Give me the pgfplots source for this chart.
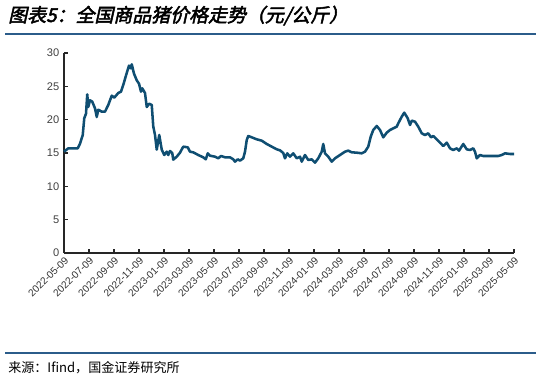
\documentclass[border=0pt]{standalone}
\usepackage{pgfplots}
\pgfplotsset{compat=1.18}
\usepackage{fontspec}
\setmainfont{Liberation Sans}
\newfontfamily\cjk{Noto Sans CJK SC}
\newfontfamily\cjkt[FakeSlant=0.22,FakeBold=2.5]{Noto Sans CJK SC}
\definecolor{pline}{HTML}{0F4E72}
\definecolor{rulec}{HTML}{2B5C8A}
\begin{document}
\begin{tikzpicture}[x=0.75pt,y=0.75pt]
\path (0,0) rectangle (541,384);
\draw[rulec, line width=1.5pt] (5,350) -- (536,350);
\draw[rulec, line width=1.5pt] (5,31) -- (536,31);
\node[anchor=base west, inner sep=0] at (8,362) {\cjkt\fontsize{14.2}{16}\selectfont 图表5：全国商品猪价格走势（元/公斤）};
\node[anchor=base west, inner sep=0] at (8,11) {\cjk\fontsize{9.8}{11}\selectfont 来源：Ifind，国金证券研究所};
\begin{axis}[
  at={(48pt,98.25pt)}, anchor=south west,
  scale only axis, width=337.5pt, height=150pt,
  xmin=0, xmax=36, ymin=0, ymax=30,
  xtick={0,2,...,36},
  xticklabels={2022-05-09,2022-07-09,2022-09-09,2022-11-09,2023-01-09,2023-03-09,2023-05-09,2023-07-09,2023-09-09,2023-11-09,2024-01-09,2024-03-09,2024-05-09,2024-07-09,2024-09-09,2024-11-09,2025-01-09,2025-03-09,2025-05-09},
  ytick={0,5,...,30},
  axis x line*=bottom, axis y line*=left,
  axis line style={black!85, line width=0.9pt},
  tick style={black!85, line width=0.8pt},
  tick align=inside, major tick length=3pt,
  /pgf/number format/assume math mode=true,
  x tick label style={rotate=45, anchor=north east, font=\fontsize{7.6}{8}\selectfont, text=black!80, inner sep=1.5pt},
  y tick label style={font=\fontsize{8.3}{9}\selectfont, text=black!75},
  clip=false,
]
\addplot[pline, line width=1.9pt, line join=round] coordinates {
(0,15.2)(0.34,15.7)(1.10,15.7)(1.28,16.4)(1.50,17.7)(1.62,20.2)(1.76,20.9)(1.86,23.8)(1.94,21.9)(2.08,22.9)(2.26,22.7)(2.48,21.7)(2.62,20.4)(2.74,21.5)(3.02,21.2)(3.28,21.2)(3.54,22.2)(3.82,23.6)(4.02,23.3)(4.34,24.0)(4.56,24.2)(4.74,25.2)(4.94,26.5)(5.10,27.5)(5.20,28.1)(5.34,27.7)(5.42,28.3)(5.60,26.9)(5.82,25.9)(6.00,25.4)(6.16,24.2)(6.26,24.7)(6.48,24.0)(6.62,21.9)(6.82,22.4)(7.02,22.2)(7.14,19.0)(7.28,17.7)(7.42,15.5)(7.62,17.7)(7.82,15.5)(8.02,14.7)(8.22,15.2)(8.34,14.7)(8.48,15.3)(8.66,15.0)(8.74,14.0)(9.02,14.45)(9.28,15.05)(9.54,15.95)(9.90,15.85)(10.08,15.2)(10.34,15.1)(10.74,14.7)(11.14,14.35)(11.34,14.05)(11.50,14.95)(11.68,14.6)(12.08,14.45)(12.34,14.2)(12.56,14.55)(12.88,14.35)(13.28,14.35)(13.54,14.05)(13.68,13.7)(13.90,14.05)(14.08,13.85)(14.34,14.2)(14.48,15.2)(14.62,16.95)(14.74,17.55)(15.02,17.35)(15.42,17.05)(15.82,16.85)(16.22,16.35)(16.62,15.95)(17.02,15.55)(17.28,15.4)(17.54,15.0)(17.68,14.2)(17.86,14.95)(18.08,14.45)(18.34,14.95)(18.62,14.2)(18.88,14.45)(19.02,13.7)(19.28,14.7)(19.54,13.95)(19.82,14.05)(20.08,13.55)(20.34,14.2)(20.62,15.2)(20.74,16.35)(20.88,14.95)(21.14,14.45)(21.42,13.7)(21.68,14.2)(22.08,14.7)(22.48,15.2)(22.74,15.35)(23.02,15.1)(23.42,15.05)(23.82,14.95)(24.08,15.2)(24.34,15.95)(24.54,17.45)(24.74,18.45)(25.02,19.05)(25.28,18.45)(25.54,17.35)(25.82,18.05)(26.08,18.45)(26.34,18.7)(26.62,18.95)(26.74,19.45)(27.02,20.45)(27.22,21.05)(27.50,20.2)(27.68,19.2)(27.82,19.85)(28.08,19.7)(28.34,18.95)(28.62,17.95)(28.88,17.7)(29.14,17.95)(29.36,17.35)(29.54,17.55)(29.82,17.05)(30.08,16.55)(30.34,16.05)(30.62,16.55)(30.88,15.7)(31.14,15.45)(31.42,15.7)(31.60,15.35)(31.94,16.35)(32.22,15.55)(32.48,15.45)(32.74,15.7)(32.88,15.2)(33.02,14.2)(33.28,14.7)(33.54,14.55)(33.94,14.55)(34.34,14.55)(34.74,14.55)(35.02,14.7)(35.28,14.95)(35.68,14.85)(36.00,14.85)
};
\end{axis}
\end{tikzpicture}
\end{document}
